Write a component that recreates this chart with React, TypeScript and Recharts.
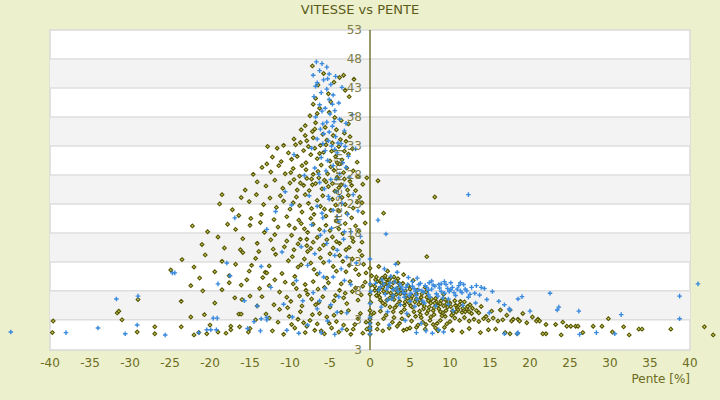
import React from "react";
import {
  ReferenceArea,
  ReferenceDot,
  ReferenceLine,
  Scatter,
  ScatterChart,
  XAxis,
  YAxis,
} from "recharts";

// axis setup
const xTicks = [-40, -35, -30, -25, -20, -15, -10, -5, 0, 5, 10, 15, 20, 25, 30, 35, 40];
const yTicks = [3, 8, 13, 18, 23, 28, 33, 38, 43, 48, 53];
const yMin = -2.2;
const yMinLabel = "3";
const grayBands = [
  [3, 8],
  [13, 18],
  [23, 28],
  [33, 38],
  [43, 48],
];

// olive diamonds: [pente %, vitesse km/h]
const olivePoints: [number, number][] = [
  // left core, upper
  [-7.2, 46.8], [-3.3, 45.2], [-2, 44.5], [-3.8, 44.8], [-5.8, 45.5], [-4.5, 44], [-6.5, 43.5],
  [-3.1, 42.6], [-5.2, 42], [-6.8, 41.2], [-4.9, 40.6], [-7.1, 40.2], [-2.6, 41.5],
  [-6.3, 39.5], [-5.1, 38.8], [-7.5, 38.2], [-4.4, 37.9], [-3.6, 37.4], [-6.8, 37], [-8.1, 36.5],
  [-5.6, 36.2], [-4.2, 35.8], [-7.2, 35.5], [-3.2, 35.2], [-5.9, 35], [-8.6, 35.8], [-6.6, 38.6], [-2.7, 36.8],
  [-9.5, 34.2], [-8.7, 33.6], [-7.9, 33.9], [-7.1, 34.4], [-6.2, 33.1], [-5.4, 34], [-4.7, 33.5],
  [-3.9, 32.9], [-3, 33.8], [-2.2, 32.5], [-10.8, 33.1], [-11.6, 32.6], [-12.8, 32.9], [-10.2, 31.8],
  [-9.1, 31.2], [-8.3, 32.2], [-7.4, 31.5], [-6.6, 30.8], [-5.8, 31.9], [-5, 30.4], [-4.3, 31.2],
  [-3.5, 30.6], [-2.7, 31.6], [-1.6, 30.2], [-12.2, 31.1], [-11.1, 30.3], [-9.8, 30.7], [-8, 30.1],
  [-6.9, 32.6], [-4.8, 32.1],
  [-9.3, 33.2], [-8.1, 34.8], [-6.9, 35.9], [-5.5, 33.2], [-4.6, 34.8], [-3.7, 34.1], [-2.5, 34.6],
  [-7.7, 32.9], [-6.3, 31.7], [-4.1, 30.1], [-3.2, 32.1],
  // left core, middle
  [-13.5, 29.3], [-12.4, 28.5], [-11.4, 29.6], [-10.6, 28.2], [-9.6, 29.1], [-8.8, 27.8], [-8, 28.9],
  [-7.3, 27.3], [-6.5, 28.6], [-5.7, 27.1], [-4.9, 29.4], [-4.1, 27.6], [-3.3, 28.4], [-2.5, 26.9],
  [-1.5, 27.7], [-14.1, 26.8], [-13, 26.1], [-11.9, 27.1], [-10.9, 25.7], [-10, 26.6], [-9.1, 25.4],
  [-8.3, 26.2], [-7.6, 25.3], [-6.8, 26.5], [-6, 25.6], [-5.2, 26], [-4.4, 25.2], [-3.6, 26.3],
  [-2.8, 25.4], [-0.9, 26.4], [-15.6, 25.4], [-18.5, 24.6], [-14.6, 28.1], [-12.9, 29.9],
  [-9.9, 28.4], [-8.5, 29.6], [-7.1, 28.1], [-6.1, 29.7], [-5.3, 28.2], [-4.5, 28.8], [-3.8, 29.9],
  [-2.9, 29.2], [-2.1, 28.7], [-9.5, 27.2], [-8.7, 26.6], [-7.9, 27.4], [-7.2, 26.3], [-6.4, 27.5],
  [-5.5, 26.8], [-4.7, 26.5], [-3.9, 25.8], [-3.2, 27.3], [-2.3, 26.2], [-1.8, 25.3],
  [-16.1, 24.1], [-15.1, 23.4], [-14.2, 24.6], [-13.3, 22.9], [-12.5, 24], [-11.7, 22.4], [-10.8, 23.5],
  [-10, 22.1], [-9.2, 24.2], [-8.5, 21.6], [-7.7, 23.1], [-7, 21.2], [-6.2, 22.6], [-5.5, 20.9],
  [-4.7, 23.8], [-3.9, 21.8], [-3.1, 22.9], [-2.3, 20.6], [-1.6, 23.3], [-0.9, 21.5], [-18.8, 23],
  [-17.2, 22], [-16.4, 21], [-14.9, 20.5], [-13.6, 21.2], [-12, 20.3], [-10.4, 20.8], [-8.9, 20.2],
  [-7.4, 20.5], [-5.9, 24.4], [-4.2, 20.1], [-2.7, 24.5],
  [-11.2, 24.4], [-9.6, 23.2], [-8.8, 22.7], [-8.1, 24.6], [-7.3, 22.2], [-6.6, 23.6], [-5.7, 22.1],
  [-4.9, 21.9], [-4.3, 22.8], [-3.5, 24.1], [-2.9, 21.4], [-2.1, 22.3], [-1.3, 24.2],
  [-22.2, 19.2], [-20.3, 18.2], [-19, 17.3], [-17.8, 19.5], [-16.8, 18.6], [-15.9, 17], [-15, 19.3],
  [-14.1, 16.2], [-13.2, 18.1], [-12.4, 16.8], [-11.5, 19], [-10.7, 15.6], [-9.8, 17.6], [-9, 16.1],
  [-8.2, 18.7], [-7.4, 15.3], [-6.6, 17.2], [-5.8, 15.9], [-5, 18.4], [-4.2, 16.5], [-3.4, 17.9],
  [-2.6, 15.5], [-1.8, 19.2], [-1, 16.4], [-21, 16], [-18.2, 15.4], [-16.2, 15.1], [-13.7, 19.8],
  [-11.9, 17.7], [-7.9, 16.9],
  [-10.1, 19.3], [-9.4, 18.8], [-8.6, 19.6], [-7.8, 18.1], [-7.1, 19.5], [-6.3, 18.6], [-5.5, 19.3],
  [-4.7, 17.3], [-3.9, 18.7], [-3.1, 19.6], [-2.2, 17.1], [-1.4, 18.3], [-0.6, 19.7], [-10.4, 16.6],
  [-9.5, 15.1], [-8.7, 16.9], [-7.9, 15.8], [-7.1, 16.4], [-6.3, 15.2], [-5.4, 16.8], [-4.6, 15.4],
  [-3.8, 16.2], [-3, 15.1], [-2.1, 16.5], [-1.3, 14.9], [-12.1, 15.2], [-13.9, 14.8],
  // left core, lower
  [-23.5, 13.4], [-22, 12.1], [-20.6, 14.2], [-19.4, 11.3], [-18.5, 13.1], [-17.6, 10.6], [-16.8, 12.6],
  [-15.9, 14.6], [-15.1, 11.4], [-14.3, 13.6], [-13.4, 10.3], [-12.6, 12.3], [-11.8, 14.3], [-11, 11],
  [-10.2, 13.2], [-9.4, 10.5], [-8.6, 12.5], [-7.8, 14.8], [-7, 11.7], [-6.2, 13.7], [-5.4, 10.2],
  [-4.6, 12.2], [-3.8, 14.1], [-3, 11.3], [-2.2, 13.5], [-1.4, 10.8], [-0.8, 12.6], [-24.9, 11.6],
  [-21.3, 10.2], [-13.1, 11.2], [-12.9, 11.1], [-14.8, 12.4],
  [-9.7, 13.9], [-9, 12.1], [-8.2, 13.5], [-7.4, 12.8], [-6.6, 10.9], [-5.8, 12.9], [-5, 14.4],
  [-4.2, 11.4], [-3.4, 13.1], [-2.6, 12.4], [-1.8, 11.7], [-1, 14.1], [-0.5, 11.1],
  [-31.6, 4.2], [-31.4, 4.5], [-29, 6.5], [-20.9, 8], [-19.4, 5.9], [-18.5, 8.2], [-17.6, 9.4],
  [-16.9, 6.8], [-16.1, 9], [-16, 6.5], [-15.4, 9.9], [-15, 7.1], [-13.5, 7], [-12.6, 8.9], [-12, 5.6],
  [-11.3, 7.8], [-10.6, 9.5], [-9.9, 6.2], [-9.2, 8.4], [-8.5, 5.4], [-7.8, 7.4], [-7.1, 9.6],
  [-6.4, 6], [-5.7, 8.6], [-5, 5.2], [-4.3, 7.2], [-3.6, 9.2], [-2.9, 5.8], [-2.2, 7.9], [-1.5, 6.4],
  [-0.9, 8.8], [-23.6, 6.2], [-22.4, 8.9], [-14.1, 5.4], [-11.9, 9.9], [-10.3, 5.1], [-8.1, 9.1],
  [-6.8, 5.6], [-3.3, 6.8], [-13.8, 8.4], [-11.3, 4.8], [-10.4, 6.9],
  [-9.6, 9.2], [-8.8, 7.1], [-8, 8.1], [-7.3, 6.6], [-6.5, 8.3], [-5.9, 7], [-5.2, 9.4], [-4.5, 6.3],
  [-3.8, 8.1], [-3.1, 7.6], [-2.5, 9.6], [-1.8, 8.5], [-1.1, 7.3], [-0.6, 9.5],
  [-39.6, 2.8], [-39.7, 0.8], [-31, 3], [-29.1, 0.9], [-26.9, 1.8], [-26.9, 0.6], [-23.6, 1.8],
  [-22.4, 3.5], [-22, 0.4], [-21.4, 0.8], [-20.7, 3.9], [-20.4, 0.6], [-20, 2.1], [-19, 0.9],
  [-18, 0.7], [-17.4, 1.9], [-17.4, 1.3], [-16.4, 4], [-16.1, 4], [-16.3, 1.8], [-15, 1.5],
  [-15.2, 0.9], [-14.3, 3], [-13, 4], [-12.2, 1.1], [-11.5, 2.6], [-10.8, 0.5], [-10.1, 3.6],
  [-9.4, 1.6], [-8.7, 4.4], [-8.1, 0.8], [-7.5, 2.9], [-6.9, 1.2], [-6.3, 4.1], [-5.7, 0.6],
  [-5.1, 2.4], [-4.5, 3.8], [-3.9, 0.9], [-3.3, 2.1], [-2.7, 4.6], [-2.1, 1.4], [-1.5, 3.2],
  [-0.9, 0.7], [-0.5, 2.6], [-12.6, 3.3], [-9.8, 2.2], [-7.9, 1.9], [-6.1, 1.1], [-4.8, 1.6], [-2.4, 0.5],
  [-9, 3.1], [-8.3, 2.5], [-7.2, 3.9], [-6.6, 2.3], [-5.4, 3.5], [-4.2, 2.7], [-3.6, 4.3], [-2.9, 1.3],
  [-1.9, 2.2], [-1.2, 4.1], [-0.4, 1.4],
  // column at zero
  [0, 0.5], [0, 1.2], [0, 1.8], [0, 2.5], [0, 3.1], [0.1, 3.8], [0, 4.6], [0.1, 6], [0, 7.4],
  [0.1, 9], [0.2, 10.6], [0, 11.9],
  // right cluster
  [0.6, 8.8], [0.9, 9.6], [1.2, 8.4], [1.5, 10.2], [1.8, 9.1], [2.1, 7.8], [2.4, 9.9], [2.7, 8.6],
  [3, 10.4], [3.3, 7.4], [3.6, 9.3], [3.9, 8.1], [4.2, 10.8], [4.5, 7.2], [4.8, 8.9], [5.1, 6.6],
  [5.4, 9.8], [0.8, 7.2], [1.3, 6.4], [1.9, 5.6], [2.5, 6.8], [3.1, 5.1], [3.7, 6.2], [4.3, 4.8],
  [4.9, 5.9], [5.5, 4.4], [6.1, 5.7], [6.7, 4.9], [7.3, 6.3], [7.9, 4.6], [8.5, 5.5], [9.1, 4.2],
  [9.7, 5.2], [10.3, 4.5], [10.9, 5], [11.5, 4.3], [12.1, 4.9], [12.7, 4.1], [13.3, 4.6], [5.8, 7.5],
  [6.4, 6.9], [7, 7.8], [7.6, 5.9], [8.2, 6.7], [8.8, 5.8], [9.4, 6.5], [10, 5.9], [10.6, 6.3],
  [11.2, 5.6], [11.8, 6.1], [2, 3.8], [2.8, 2.6], [3.4, 1.9], [4, 3.2], [4.6, 1.4], [5.2, 2.8],
  [5.8, 1.7], [6.4, 3.4], [7, 2.2], [7.6, 3.5], [8.2, 1.6], [8.8, 2.9], [9.4, 3.6], [10, 2.7],
  [10.6, 3.3], [11.2, 2.9], [11.8, 3.4], [12.4, 2.8], [13, 3.1], [13.6, 2.7], [14.2, 3.2], [14.8, 2.9],
  [15.4, 3.3], [16, 2.8], [16.6, 3], [10.3, 1.2], [11.5, 0.9], [12.4, 1.5], [13.8, 0.8], [14.8, 1.3],
  [2.2, 11.4], [1.1, 12.2], [3.5, 12.8], [8.1, 24.2], [7.1, 13.9], [1, 27], [1.7, 21.4], [-0.4, 27.5],
  [-1, 23.2], [0.5, 4.2], [1, 2.3], [1.6, 1.1], [2.9, 4.4], [4.4, 6.1], [6.9, 8.6], [9.2, 7.4],
  [12.5, 5.6], [13.9, 5.3], [15.2, 4.5], [16.3, 4.7],
  [0.7, 9.9], [1, 8.1], [1.4, 9.4], [1.7, 7.9], [2, 10], [2.3, 8.9], [2.6, 7.6], [2.9, 9.4],
  [3.2, 8.2], [3.5, 10.1], [3.8, 7.5], [4.1, 9.3], [4.4, 8], [4.7, 6.7], [5, 8.3], [5.3, 7.1],
  [5.6, 6.1], [5.9, 8.1], [6.2, 6.4], [6.5, 7.5], [6.8, 5.4], [7.1, 6.9], [7.4, 5.2], [7.7, 6.6],
  [8, 5.1], [8.3, 6.1], [8.6, 4.9], [8.9, 6.3], [9.2, 5.4], [9.5, 4.6], [9.8, 6.1], [10.1, 5.3],
  [10.4, 4.1], [10.7, 5.5], [11, 4.7], [11.3, 6.2], [11.6, 5], [11.9, 4.4], [12.2, 5.3], [12.8, 5],
  [1.2, 6.9], [1.6, 5.9], [2.1, 6.4], [2.5, 5.2], [3, 6.5], [3.4, 5.6], [3.9, 4.3], [4.3, 5.5],
  [4.8, 3.8], [5.3, 5.2], [5.7, 3.6], [6.2, 4.5], [6.6, 2.6], [7.1, 4.1], [7.5, 2.9], [8, 3.9],
  [8.4, 2.4], [9, 3.7], [9.6, 2.3], [10.2, 3.8], [3, 3.4], [3.7, 2.4], [4.2, 1.2], [5, 1.6],
  [6, 2.1], [6.9, 1.4], [7.9, 2.2], [8.5, 1.1], [9.3, 1.7], [1.3, 4.5], [1.7, 3.2], [2.4, 1.6], [0.9, 1.4],
  [0.8, 10.4], [1.3, 9.8], [1.9, 10.6], [2.6, 10.3], [3.3, 9.7], [0.6, 8.1], [1.1, 7.6], [1.6, 8.6],
  [2.2, 9.4], [2.9, 7.1], [3.6, 8.6], [4.3, 7.6], [5.1, 5.4], [5.8, 6.6], [6.6, 5.8], [7.3, 4.6],
  [8.1, 5.9], [8.8, 4.4], [9.6, 5.8], [10.8, 4.4], [12.4, 4.4], [13.6, 4.2], [14.5, 3.6], [6.3, 3.9],
  // right tail
  [17.7, 2.8], [17.9, 3.1], [18.5, 3.1], [18.7, 2.8], [19.6, 2.5], [20.8, 2.8], [21, 3.1], [21.2, 2.8],
  [22, 2.2], [23.2, 2.2], [24.6, 1.9], [25.1, 1.9], [25.7, 1.9], [26, 1.9], [26.6, 0.8], [27.9, 1.9],
  [29, 1.9], [29.8, 3.2], [30.3, 0.9], [31.7, 1.8], [32.4, 0.4], [33.6, 1.4], [34, 1.4], [37.6, 1.4],
  [41.8, 1.8], [42.9, 0.4], [23.9, 0.4], [22, 0.6], [21.6, 0.6], [18.4, 0.6], [17.5, 0.6], [17.5, 4.7],
  [16.9, 0.8], [15.7, 1.4], [19.1, 4.1], [20.3, 3.5], [17.1, 3.8], [24.1, 2.6],
];

// blue crosses: [pente %, vitesse km/h]
const bluePoints: [number, number][] = [
  // left cluster
  [-6.7, 47.5], [-6, 47.2], [-5.4, 46.6], [-6.3, 46], [-5.1, 45.4], [-7.1, 45.2], [-4.3, 45],
  [-5.8, 44.4], [-6.6, 43.9], [-4.9, 43.6], [-3.5, 43.1], [-5.4, 42.8], [-6.1, 42.2], [-4.6, 41.8],
  [-7, 41.5], [-5.1, 41], [-3.9, 40.4], [-6.3, 40.1], [-5.6, 39.5], [-4.4, 39.1], [-5, 38.5],
  [-6.8, 38], [-3.8, 37.6], [-5.4, 37.1], [-4.7, 36.4], [-6.2, 35.9], [-3.2, 35.6], [-5.8, 35.1],
  [-4.3, 34.6], [-6.6, 34.2], [-5.2, 33.9], [-3.6, 33.4], [-4.8, 33], [-7.3, 32.6], [-5.6, 32.2],
  [-4.1, 31.8], [-2.7, 31.2], [-6.1, 31], [-5.3, 30.5], [-3.4, 30.1], [-1.8, 32.5], [-4.6, 29.6],
  [-6.9, 29.2], [-5.5, 28.7], [-3.8, 28.2], [-2.6, 27.6], [-4.9, 27.2], [-6.3, 26.7], [-3.1, 26.1],
  [-5.7, 25.6], [-4.2, 25.1], [-7.6, 24.4], [-2.1, 24.6], [-5.1, 23.8], [-3.5, 23.1], [-6.6, 22.6],
  [-4.6, 21.9], [-2.8, 21.2], [-5.9, 20.6], [-3.9, 19.9], [-7.3, 19.4], [-4.8, 18.8], [-2.4, 18.2],
  [-6.2, 17.6], [-3.3, 16.9], [-5.4, 16.2], [-8.6, 15.6], [-4.1, 15], [-6.9, 14.4], [-2.9, 13.8],
  [-5.1, 13.1], [-7.8, 12.4], [-3.6, 11.8], [-6.3, 11.1], [-4.6, 10.4], [-9.2, 9.8], [-2.4, 9.1],
  [-5.6, 8.4], [-7.1, 7.7], [-3.9, 7], [-8.4, 6.3], [-4.9, 5.6], [-6.6, 4.9], [-2.9, 4.2],
  [-9.7, 3.5], [-5.3, 2.8], [-7.8, 2.1], [-3.5, 1.4], [-6.1, 0.8], [-4.4, 0.5], [-10.4, 1.2],
  [-8.9, 0.7], [-9.5, 31.5], [-8.2, 27.9], [-10.6, 25.1], [-11.8, 21.7], [-9.8, 22.8], [-12.9, 18.6],
  [-11, 14.7], [-13.6, 12.2], [-12.4, 8.6], [-10.8, 5.7], [-1.5, 21.8], [-1.2, 17.4], [-1.7, 12.8],
  [-3, 36.9], [-2.2, 38.4],
  [-5.9, 36.8], [-4.5, 37.2], [-5.1, 35.4], [-4, 33.5], [-5.9, 33.4], [-4.4, 32.4], [-3.1, 32.9],
  [-6.4, 28.1], [-4.2, 27.3], [-3, 29.3], [-5.2, 24.3], [-3.8, 24.3], [-6, 21.4], [-4.1, 20.8],
  [-3.2, 18.2], [-5.7, 18.3], [-4.4, 14.1], [-5.8, 10.4], [-3.2, 9.8], [-6.3, 6.3], [-4.1, 4.3],
  [-6.8, 43.3], [-5.3, 44.6], [-4.7, 40.2], [-6, 39],
  // left, sparse
  [-44.9, 0.9], [-38, 0.8], [-34, 1.6], [-31.7, 6.6], [-30.6, 0.6], [-29, 7.1], [-29.1, 2.1],
  [-25.6, 0.4], [-24.7, 11.1], [-24.4, 11.1], [-21.4, 0.8], [-19.6, 3.3], [-19.1, 3.3], [-20.4, 1.3],
  [-19.9, 1.3], [-19, 9.2], [-19.2, 1.3], [-17.5, 10.6], [-15.7, 6.3], [-15.3, 1.5], [-14.5, 2.7],
  [-14.1, 5.4], [-13.6, 3.2], [-13.7, 1.1], [-12.9, 3.4], [-12.9, 3], [-16.9, 20.6], [-17.9, 12.8],
  // column at zero
  [0, 0.6], [0, 1.5], [0, 2.3], [0, 3.4], [0, 5.8], [0.1, 7.9], [0, 9.2], [0, 13.5],
  // right cluster
  [1, 20.2], [2, 17.8], [12.3, 24.6],
  [0.7, 9.3], [1.1, 8.1], [1.5, 9.9], [1.9, 7.4], [2.3, 8.8], [2.7, 6.6], [3.1, 9.5], [3.5, 7.9],
  [3.9, 8.7], [4.3, 6.9], [4.7, 9.1], [5.1, 7.6], [5.5, 8.4], [5.9, 6.5], [6.3, 9.3], [6.7, 7.8],
  [7.1, 8.6], [7.5, 6.9], [7.9, 9], [8.3, 7.5], [8.7, 8.5], [9.1, 6.8], [9.5, 9.1], [9.9, 7.9],
  [10.3, 8.6], [10.7, 7.2], [11.1, 8.9], [11.5, 7.7], [11.9, 8.3], [12.3, 6.9], [12.7, 8.6],
  [13.1, 7.6], [13.7, 7.3], [14.3, 8.4], [14.6, 6.5], [15.3, 7.9], [16.1, 6.2], [16.8, 5.6],
  [17.4, 4.9], [18.5, 6.6], [19, 7], [20, 4.5], [22.5, 7.6], [23.4, 4.7], [23.6, 5.2], [26.1, 4.5],
  [26.2, 0.5], [28.3, 0.8], [30.6, 0.6], [31.4, 3.9], [38.7, 7.1], [38.7, 3.2], [41, 9.2],
  [16.8, 0.6], [18.4, 0.6], [18.5, 0.8], [17.5, 4.7], [2.6, 10.5], [3.4, 11.2], [4.8, 10.3],
  [1.8, 11.8], [3.2, 12.6], [5.9, 10.2], [1.4, 5.2], [2.2, 4.4], [3.8, 5.6], [4.6, 4.1], [5.6, 5.3],
  [6.8, 5.9], [8.2, 5.4], [9.8, 5.7], [7, 1.1], [7.8, 0.7], [8.6, 1.3], [9.2, 0.9], [5.8, 0.8],
  [6.4, 2.4], [4.4, 2.9], [2.4, 2.1], [10.4, 4.6], [11.6, 5.5], [13.2, 5.9], [14.9, 4.2], [6.1, 8.2],
  [7.3, 8.1], [8.9, 7.9], [10.1, 8.2], [4.1, 7.7], [2.9, 8.2], [5.3, 9.6], [7.7, 9.7], [9.3, 9.6],
  [11.3, 9.4],
  [1.3, 8.7], [1.7, 9.2], [2.1, 8.3], [2.5, 9.4], [2.9, 7.2], [3.3, 8.5], [3.7, 9.2], [4.1, 8.2],
  [4.5, 8.6], [4.9, 7.2], [5.3, 8.8], [5.7, 7.9], [6.1, 9.1], [6.5, 8], [6.9, 8.9], [7.3, 7.4],
  [7.7, 8.3], [8.1, 8.8], [8.5, 7.1], [8.9, 9.2], [9.3, 7.6], [9.7, 8.4], [10.1, 9.4], [10.5, 7.7],
  [10.9, 8.3], [11.3, 8], [11.7, 9.1], [12.1, 8], [12.5, 7.4], [13.3, 8.9], [13.9, 8.6], [4.4, 7.6],
  [5.8, 7.2], [7.4, 9.4], [8.6, 9.1], [9.8, 6.6], [6.6, 6.2], [3.6, 6.8], [2.2, 6.4], [5, 6.2],
];

const oliveData = olivePoints.map(([x, y]) => ({ x, y }));
const blueData = bluePoints.map(([x, y]) => ({ x, y }));

const OLIVE = "#555500";
const BLUE = "#3a8ade";
const TEXT = "#6b6b22";
const FONT = "'DejaVu Sans', Verdana, sans-serif";

const Diamond = (props: any) => {
  const { cx, cy } = props;
  if (cx == null || cy == null) return null;
  const r = 1.9;
  return (
    <path
      d={`M${cx},${cy - r}L${cx + r},${cy}L${cx},${cy + r}L${cx - r},${cy}Z`}
      fill="#cccc66"
      stroke={OLIVE}
      strokeWidth={1.1}
    />
  );
};

const Plus = (props: any) => {
  const { cx, cy } = props;
  if (cx == null || cy == null) return null;
  const r = 2.3;
  return (
    <path
      d={`M${cx - r},${cy}H${cx + r}M${cx},${cy - r}V${cy + r}`}
      stroke={BLUE}
      strokeWidth={1.4}
      fill="none"
    />
  );
};

export default function App() {
  return (
    <div
      style={{
        position: "absolute",
        left: 0,
        top: 0,
        width: 720,
        height: 400,
        background: "#ecf0cc",
        fontFamily: FONT,
      }}
    >
      <div
        style={{
          position: "absolute",
          top: 2,
          width: 720,
          textAlign: "center",
          fontSize: 13,
          color: "#5b5b1a",
        }}
      >
        VITESSE vs PENTE
      </div>
      <div
        style={{
          position: "absolute",
          top: 372,
          right: 30,
          fontSize: 12,
          color: TEXT,
        }}
      >
        Pente [%]
      </div>
      <ScatterChart
        width={720}
        height={400}
        margin={{ top: 30, right: 2, bottom: 20, left: 6 }}
      >
        <XAxis
          type="number"
          dataKey="x"
          domain={[-45.5, 43.5]}
          ticks={xTicks}
          interval={0}
          axisLine={false}
          tickLine={false}
          height={30}
          tick={{ fill: TEXT, fontSize: 12, fontFamily: FONT }}
        />
        <YAxis type="number" dataKey="y" domain={[yMin, 53]} hide />
        <ReferenceArea
          x1={-40}
          x2={40}
          y1={yMin}
          y2={53}
          fill="#ffffff"
          fillOpacity={1}
          stroke="#d9d9d9"
          strokeWidth={1.5}
        />
        {grayBands.map(([a, b]) => (
          <ReferenceArea
            key={`band-${a}`}
            x1={-40}
            x2={40}
            y1={a}
            y2={b}
            fill="#f3f3f3"
            fillOpacity={1}
            stroke="none"
          />
        ))}
        {yTicks.slice(0, -1).map((t) => (
          <ReferenceLine
            key={`grid-${t}`}
            segment={[
              { x: -40, y: t },
              { x: 40, y: t },
            ]}
            stroke="#dedede"
            strokeWidth={1.5}
          />
        ))}
        <ReferenceLine x={0} stroke={OLIVE} strokeWidth={1.2} />
        {yTicks.map((t) => (
          <ReferenceDot
            key={`ylab-${t}`}
            x={0}
            y={t}
            r={0}
            stroke="none"
            label={{
              value: String(t),
              position: "left",
              offset: 8,
              fill: "#7d7d48",
              fontSize: 12,
              fontFamily: FONT,
            }}
          />
        ))}
        <ReferenceDot
          x={0}
          y={yMin}
          r={0}
          stroke="none"
          label={{
            value: yMinLabel,
            position: "left",
            offset: 8,
            fill: "#7d7d48",
            fontSize: 12,
            fontFamily: FONT,
          }}
        />
        <ReferenceDot
          x={-4}
          y={25.6}
          r={0}
          stroke="none"
          label={{
            value: "Vitesse [km/h]",
            position: "center",
            angle: -90,
            fill: "#6b6b30",
            fontSize: 11,
            fontFamily: FONT,
          }}
        />
        <Scatter
          data={oliveData}
          shape={Diamond}
          isAnimationActive={false}
        />
        <Scatter data={blueData} shape={Plus} isAnimationActive={false} />
      </ScatterChart>
    </div>
  );
}
